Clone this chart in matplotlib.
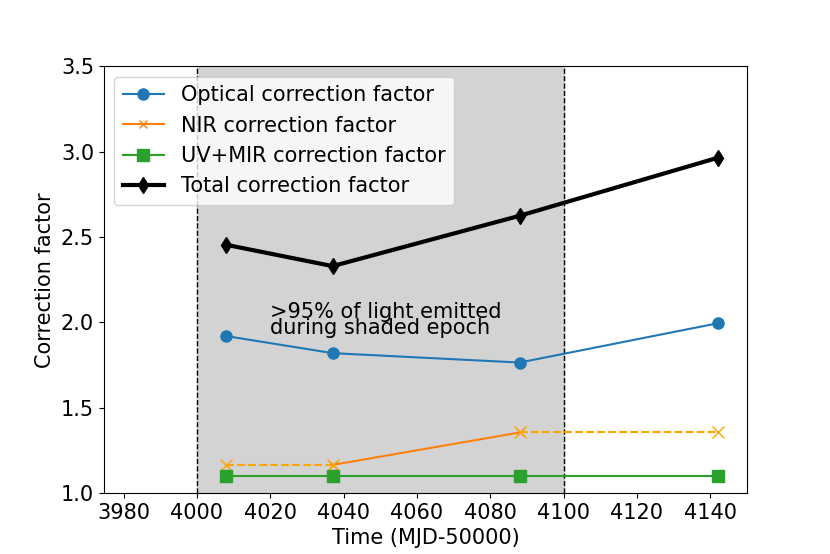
import numpy as np
import matplotlib
matplotlib.use("Agg")
import matplotlib.pyplot as plt

plt.rcParams['font.size'] = 15

time = [4008, 4037, 4088, 4142]
optical = [1.92, 1.82, 1.765, 1.995]
nir = [1.165, 1.165, 1.355, 1.355]
uvmir = [1.10, 1.10, 1.10, 1.10]
total = [2.455, 2.33, 2.625, 2.965]

fig, ax = plt.subplots(figsize=(8.3, 5.54), dpi=100)

ax.axvspan(4000, 4100, color='lightgrey', zorder=0)
ax.axvline(4000, color='k', ls='--', lw=1)
ax.axvline(4100, color='k', ls='--', lw=1)

ax.plot(time, optical, marker='o', ms=8, color='C0', label='Optical correction factor')
# only the middle NIR segment is measured, the ends are extrapolated
ax.plot(time[1:3], nir[1:3], marker='x', color='C1', label='NIR correction factor')
ax.plot(time[:2], nir[:2], marker='x', ms=9, color='orange', ls='--')
ax.plot(time[2:], nir[2:], marker='x', ms=9, color='orange', ls='--')
ax.plot(time, uvmir, marker='s', ms=8, color='C2', label='UV+MIR correction factor')
ax.plot(time, total, marker='d', ms=8, color='k', lw=3, label='Total correction factor')

ax.text(4020, 1.93, '>95% of light emitted\nduring shaded epoch', linespacing=0.8)

ax.set_xlim(3974.6, 4150)
ax.set_ylim(1.0, 3.5)
ax.set_xlabel('Time (MJD-50000)')
ax.set_ylabel('Correction factor')
ax.legend(loc='upper left')

fig.savefig('out.png')
